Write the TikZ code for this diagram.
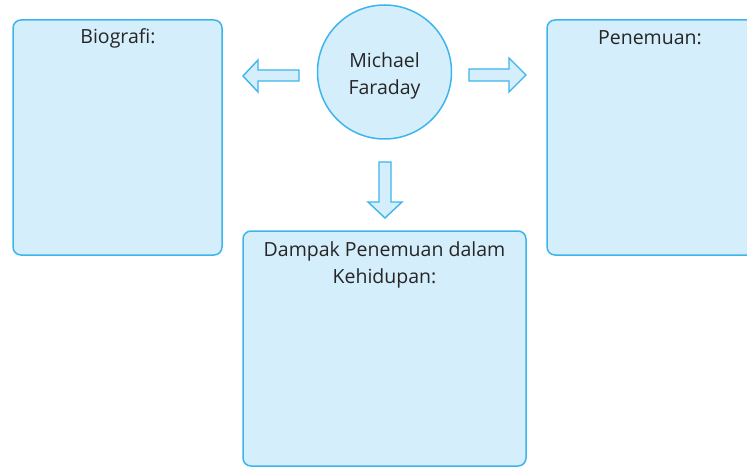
\documentclass[tikz,border=0pt]{standalone}
\usepackage{fontspec}
\setmainfont[Ligatures=NoCommon]{Open Sans}
\definecolor{boxfill}{HTML}{D4EEFB}
\definecolor{boxline}{HTML}{3DB5EC}
\definecolor{txt}{HTML}{262626}
\tikzset{
  panel/.style={draw=boxline, fill=boxfill, line width=1.5pt, rounded corners=8pt},
  bigarrow/.style={draw=boxline, fill=boxfill, line width=1.4pt, line join=miter},
  lbl/.style={text=txt, font=\fontsize{19.5}{27.5}\selectfont, align=center, inner sep=0pt}
}
\begin{document}
\begin{tikzpicture}[x=1pt,y=-1pt]
\useasboundingbox (0,0) rectangle (747,468);
\clip (0,0) rectangle (747,468);
% panels
\draw[panel] (13,20) rectangle (222,255);
\draw[panel] (547,20) rectangle (760,255);
\draw[panel] (243,231) rectangle (526,466);
\node[panel, circle, minimum size=134pt, inner sep=0pt, rounded corners=0pt] (mf) at (384.5,72) {};
% labels
\node[lbl] (bio) at (118,38) {Biografi:};
\node[lbl] (pen) at (650,38) {Penemuan:};
\node[lbl] (name) at (384.5,76) {Michael\\Faraday};
\node[lbl] (dam) at (384.5,265) {Dampak Penemuan dalam\\Kehidupan:};
% arrows
\draw[bigarrow] (299,70) -- (258,70) -- (258,60) -- (243,76) -- (258,92) -- (258,81) -- (299,81) -- cycle;
\draw[bigarrow] (469,69) -- (509,69) -- (509,58) -- (526,75) -- (509,92) -- (509,81) -- (469,81) -- cycle;
\draw[bigarrow] (379,162) -- (391,162) -- (391,202) -- (402,202) -- (385,218) -- (368,202) -- (379,202) -- cycle;
\end{tikzpicture}
\end{document}
